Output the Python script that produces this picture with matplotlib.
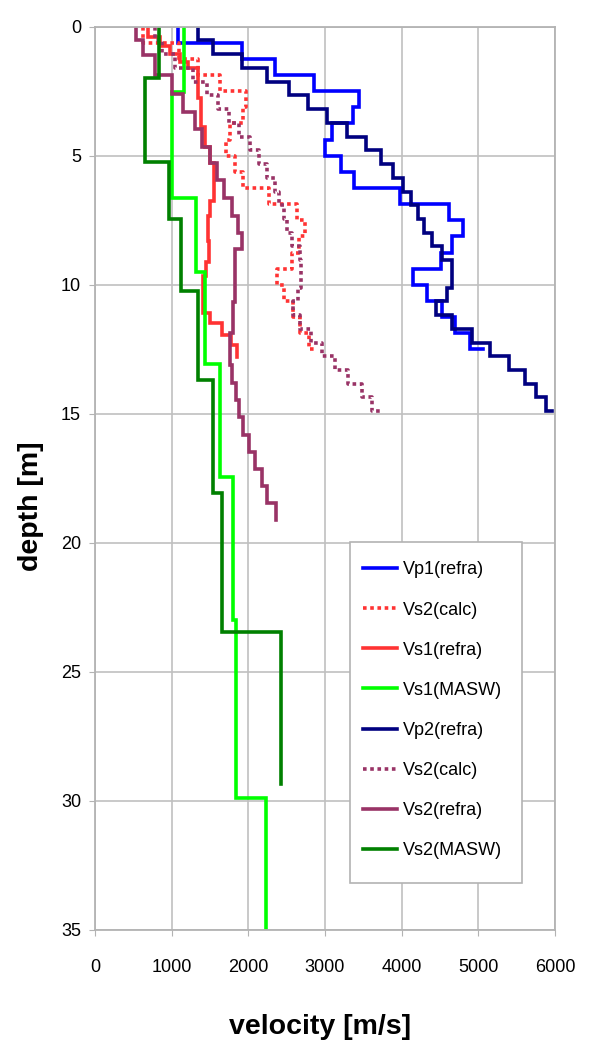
import matplotlib
matplotlib.use("Agg")
import matplotlib.pyplot as plt
from matplotlib.patches import Rectangle

plt.rcParams['font.family'] = ['Liberation Sans', 'DejaVu Sans']

# profile 1, refraction layers (depth of layer top [m], velocity [m/s])
vp1_depth = [0, 0.625, 1.25, 1.875, 2.5, 3.125, 3.75, 4.375, 5.0, 5.625, 6.25,
             6.875, 7.5, 8.125, 8.75, 9.375, 10.0, 10.625, 11.25, 11.875, 12.5]
vp1_vel = [1086, 1913, 2347, 2856, 3447, 3368, 3087, 2999, 3204, 3381, 3977,
           4616, 4795, 4651, 4508, 4151, 4325, 4521, 4694, 4890, 5064]
vs_calc1_vel = [620, 1095, 1340, 1630, 1970, 1925, 1765, 1715, 1830, 1930, 2275,
                2640, 2740, 2660, 2575, 2370, 2470, 2585, 2680, 2795, 2895]

vs1_refra_depth = [0, 0.40, 0.75, 1.05, 1.35, 1.60, 2.75, 3.90, 4.65, 5.30, 6.75,
                   7.35, 8.30, 9.10, 9.65, 11.10, 11.50, 11.95, 12.35, 12.80]
vs1_refra_vel = [690, 848, 978, 1108, 1213, 1343, 1382, 1430, 1500, 1552, 1500,
                 1478, 1490, 1447, 1412, 1500, 1650, 1770, 1848, 1848]

vs1_masw_depth = [0, 2.52, 6.65, 9.50, 13.05, 17.44, 23.0, 29.9, 34.95]
vs1_masw_vel = [1165, 1000, 1317, 1434, 1630, 1804, 1838, 2230, 2230]

# profile 2
vp2_depth = [0, 0.53, 1.06, 1.60, 2.13, 2.66, 3.19, 3.72, 4.26, 4.79, 5.32, 5.85,
             6.39, 6.92, 7.45, 7.98, 8.51, 9.04, 10.11, 10.64, 11.17, 11.70,
             12.24, 12.77, 13.30, 13.83, 14.36, 14.90]
vp2_vel = [1347, 1542, 1913, 2239, 2534, 2782, 3029, 3282, 3534, 3730, 3890, 4020,
           4121, 4216, 4290, 4391, 4521, 4651, 4586, 4443, 4651, 4912,
           5151, 5403, 5607, 5751, 5881, 5956]
vs_calc2_vel = [782, 874, 1040, 1278, 1460, 1608, 1754, 1878, 2021, 2139, 2249, 2347,
                2406, 2471, 2504, 2569, 2673, 2686, 2651, 2582, 2673, 2817,
                2960, 3130, 3299, 3482, 3612, 3756]

vs2_refra_depth = [0, 0.53, 1.11, 1.88, 2.60, 3.30, 3.95, 4.65, 5.27, 5.94, 6.65,
                   7.34, 7.98, 8.62, 10.66, 11.88, 13.11, 13.80, 14.47, 15.14,
                   15.83, 16.47, 17.15, 17.80, 18.47, 19.12]
vs2_refra_vel = [531, 622, 782, 1000, 1151, 1304, 1391, 1500, 1595, 1689, 1786,
                 1865, 1913, 1825, 1795, 1765, 1782, 1838, 1882, 1934,
                 2008, 2086, 2174, 2247, 2360, 2360]

vs2_masw_depth = [0, 2.0, 5.23, 7.47, 10.23, 13.69, 18.05, 23.47, 29.33]
vs2_masw_vel = [835, 652, 969, 1118, 1337, 1535, 1650, 2422, 2422]

series = [
    (vp1_vel, vp1_depth, 'Vp1(refra)', '#0000ff', '-'),
    (vs_calc1_vel, vp1_depth, 'Vs2(calc)', '#ff3333', (0, (1, 1))),
    (vs1_refra_vel, vs1_refra_depth, 'Vs1(refra)', '#ff3333', '-'),
    (vs1_masw_vel, vs1_masw_depth, 'Vs1(MASW)', '#00ff00', '-'),
    (vp2_vel, vp2_depth, 'Vp2(refra)', '#000080', '-'),
    (vs_calc2_vel, vp2_depth, 'Vs2(calc)', '#993366', (0, (1, 1))),
    (vs2_refra_vel, vs2_refra_depth, 'Vs2(refra)', '#993366', '-'),
    (vs2_masw_vel, vs2_masw_depth, 'Vs2(MASW)', '#008000', '-'),
]

fig = plt.figure(figsize=(5.94, 10.40), dpi=100)
ax = fig.add_axes([95 / 594, 1 - 930 / 1040, 460 / 594, 903.3 / 1040])

for vel, depth, label, color, ls in series:
    ax.step(vel, depth, where='pre', color=color, lw=2.6, ls=ls, label=label,
            solid_joinstyle='miter')

ax.set_xlim(0, 6000)
ax.set_ylim(35, 0)
ax.set_xticks(range(0, 6001, 1000))
ax.set_yticks(range(0, 36, 5))
ax.grid(True, color='#c0c0c0', lw=1.2)
ax.set_axisbelow(True)
for sp in ax.spines.values():
    sp.set_color('#b3b3b3')
    sp.set_linewidth(1.3)
ax.tick_params(axis='both', length=4, color='#b3b3b3', labelsize=13)
ax.tick_params(axis='x', pad=17)
ax.tick_params(axis='y', pad=6)

ax.set_xlabel('velocity [m/s]', fontsize=20.5, fontweight='bold')
ax.set_ylabel('depth [m]', fontsize=20.5, fontweight='bold')
ax.xaxis.set_label_coords(0.489, -0.093)
ax.yaxis.set_label_coords(-0.11, 0.469)

# legend box with empty space at the bottom, as in the original
ax.add_patch(Rectangle((0.554, 0.052), 0.374, 0.3775, transform=ax.transAxes,
                       facecolor='white', edgecolor='#b3b3b3', lw=1.2, zorder=5))
leg = ax.legend(loc='upper left', bbox_to_anchor=(0.583, 0.408), frameon=False,
                fontsize=13, handlelength=1.9, handletextpad=0.32,
                labelspacing=1.28, borderpad=0, borderaxespad=0)
leg.set_zorder(6)

fig.savefig('out.png', dpi=100)
